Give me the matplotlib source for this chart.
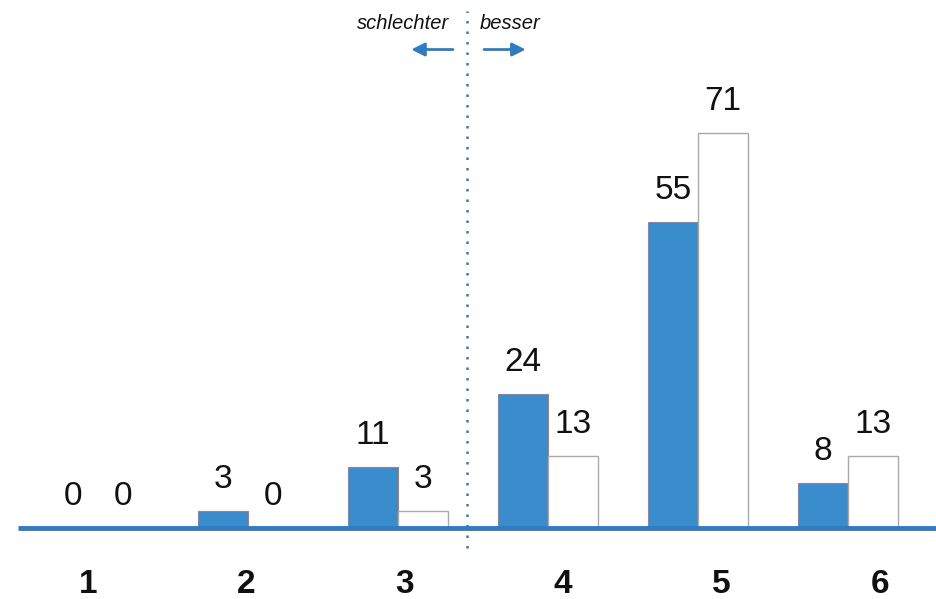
import matplotlib.pyplot as plt
import numpy as np

# data
groups = ["1", "2", "3", "4", "5", "6"]
blue_vals = [0, 3, 11, 24, 55, 8]
white_vals = [0, 0, 3, 13, 71, 13]

blue = "#3a8dcc"
line_blue = "#2f7cc2"

plt.rcParams['font.family'] = ['Liberation Sans', 'DejaVu Sans']

fig = plt.figure(figsize=(9.36, 5.99), dpi=100)
ax = fig.add_axes([0, 0, 1, 1])
ax.set_xlim(-0.653, 5.587)
ax.set_ylim(-12.76, 94.9)
ax.axis("off")

x = np.arange(len(groups))
w = 0.333
ax.bar(x - w / 2, blue_vals, width=w, color=blue, edgecolor="#b07a7a", linewidth=0.8, zorder=2)
ax.bar(x + w / 2, white_vals, width=w, color="white", edgecolor="#aaaaaa", linewidth=1.0, zorder=2)

for i in range(len(groups)):
    ax.text(x[i] - w / 2, blue_vals[i] + 2.9, str(blue_vals[i]), ha="center", va="bottom",
            fontsize=24, color="#111111")
    ax.text(x[i] + w / 2, white_vals[i] + 2.9, str(white_vals[i]), ha="center", va="bottom",
            fontsize=24, color="#111111")

# base line
ax.plot([-0.533, 5.587], [0, 0], color=line_blue, linewidth=3.5, zorder=3, solid_capstyle="butt")

# category labels (spaced a bit wider than the bar groups)
lab_x = -0.067 + 1.056 * x
for i, g in enumerate(groups):
    ax.text(lab_x[i], -10.1, g, ha="center", va="center", fontsize=24, fontweight="bold", color="#111111")

# divider
ax.plot([2.46, 2.46], [-3.6, 93.0], color=line_blue, linestyle=(0, (1, 3.2)), linewidth=1.8, zorder=1)
ax.text(2.34, 90.6, "schlechter", ha="right", va="center", fontsize=14.5, style="italic", color="#111111")
ax.text(2.547, 90.6, "besser", ha="left", va="center", fontsize=14.5, style="italic", color="#111111")
ax.annotate("", xy=(2.07, 86.0), xytext=(2.385, 86.0),
            arrowprops=dict(arrowstyle="-|>", color=line_blue, lw=2, mutation_scale=20))
ax.annotate("", xy=(2.87, 86.0), xytext=(2.555, 86.0),
            arrowprops=dict(arrowstyle="-|>", color=line_blue, lw=2, mutation_scale=20))

fig.savefig("out.png", dpi=100)
